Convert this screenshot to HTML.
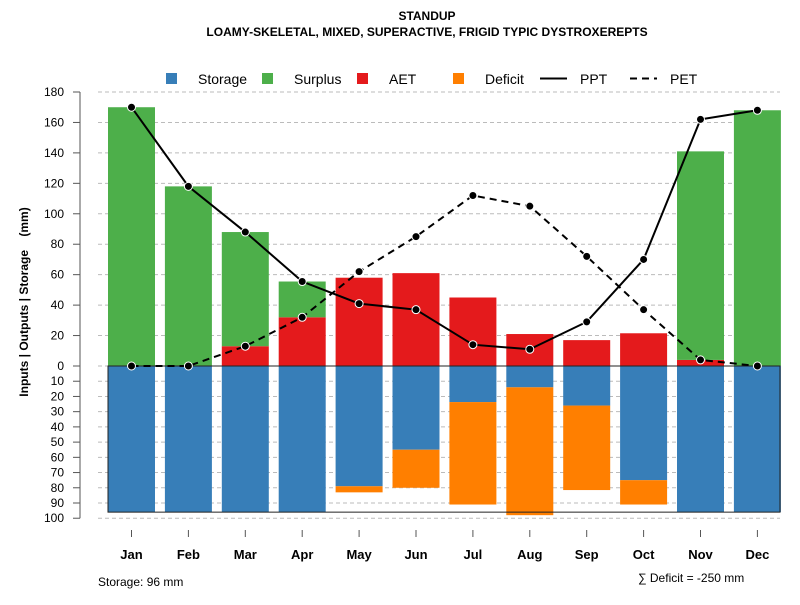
<!DOCTYPE html>
<html><head><meta charset="utf-8"><style>
body{margin:0;background:#fff}
svg{font-family:"Liberation Sans",Arial,sans-serif}
</style></head><body>
<svg id="chart" width="800" height="600" xmlns="http://www.w3.org/2000/svg">
<text x="427" y="20" text-anchor="middle" font-size="12" font-weight="bold">STANDUP</text>
<text x="427" y="36" text-anchor="middle" font-size="12" font-weight="bold">LOAMY-SKELETAL, MIXED, SUPERACTIVE, FRIGID TYPIC DYSTROXEREPTS</text>
<text transform="translate(28,302) rotate(-90)" text-anchor="middle" font-size="12" font-weight="bold" style="white-space:pre">Inputs | Outputs | Storage    (mm)</text>
<text x="98" y="586" font-size="12">Storage: 96 mm</text>
<text x="638" y="582" font-size="12">∑ Deficit = -250 mm</text>
<g id="legend"></g>
<g id="grid"></g><g id="bars"></g><g id="lines"></g><g id="axes"></g>
</svg>
<script>
const months=["Jan","Feb","Mar","Apr","May","Jun","Jul","Aug","Sep","Oct","Nov","Dec"];
const ppt=[170,118,88,55.5,41,37,14,11,29,70,162,168];
const pet=[0,0,13,32,62,85,112,105,72,37,4,0];
const aet=[0,0,13,32,58,61,45,21,17,21.5,4,0];
const surplus=[170,118,75,23.5,0,0,0,0,0,0,137,168];
const storage=[96,96,96,96,79,55,23.7,14,26,75,96,96];
const deficit=[0,0,0,0,4,25,67.3,84,55.5,16,0,0];
const upTicks=[0,20,40,60,80,100,120,140,160,180];
const downTicks=[10,20,30,40,50,60,70,80,90,100];
const storageMax=96;
const NS="http://www.w3.org/2000/svg";
const y0=366,k=274/180;
const yUp=v=>y0-v*k, yDn=v=>y0+v*k;
const xc=i=>131.5+i*56.9, bw=47;
function mk(p,t,a){const e=document.createElementNS(NS,t);for(const n in a)e.setAttribute(n,a[n]);document.getElementById(p).appendChild(e);return e;}
const C={st:"#377eb8",su:"#4daf4a",ae:"#e41a1c",de:"#ff7f00"};
upTicks.forEach(t=>{const g=mk("grid","line",{x1:98,x2:780,y1:yUp(t),y2:yUp(t),stroke:"#bbb","stroke-dasharray":"4,3"});

});
downTicks.forEach(t=>{const g=mk("grid","line",{x1:98,x2:780,y1:yDn(t),y2:yDn(t),stroke:"#bbb","stroke-dasharray":"4,3"});

});
months.forEach((m,i)=>{
 const x=xc(i)-bw/2;
 if(aet[i]>0){const r=mk("bars","rect",{x:x,width:bw,y:yUp(aet[i]),height:aet[i]*k,fill:C.ae});
 
 }
 if(surplus[i]>0){const r=mk("bars","rect",{x:x,width:bw,y:yUp(aet[i]+surplus[i]),height:surplus[i]*k,fill:C.su});
 
 }
 const s=mk("bars","rect",{x:x,width:bw,y:y0,height:storage[i]*k,fill:C.st});
 
 
 if(deficit[i]>0){const r=mk("bars","rect",{x:x,width:bw,y:yDn(storage[i]),height:deficit[i]*k,fill:C.de});
 
 }
});
const box=mk("bars","rect",{x:108,y:y0,width:672,height:storageMax*k,fill:"none",stroke:"#222","stroke-width":1});


function line(d,dash,name){
 const p=mk("lines","polyline",{points:d.map((v,i)=>xc(i)+","+yUp(v)).join(" "),fill:"none",stroke:"#000","stroke-width":2,"stroke-dasharray":dash});
 
 
 d.forEach((v,i)=>{const c=mk("lines","circle",{cx:xc(i),cy:yUp(v),r:4,fill:"#000",stroke:"#fff","stroke-width":1});
 
 });
}
line(pet,"7,5","pet");line(ppt,"none","ppt");
const ax=mk("axes","line",{x1:80,x2:80,y1:yUp(180),y2:yDn(100),stroke:"#555"});


function tick(y,l){const t=mk("axes","line",{x1:73,x2:80,y1:y,y2:y,stroke:"#555"});


const tx=mk("axes","text",{x:64,y:y+4,"text-anchor":"end","font-size":12});tx.textContent=l;

}
upTicks.forEach(t=>tick(yUp(t),t));downTicks.forEach(t=>tick(yDn(t),t));
months.forEach((m,i)=>{const t=mk("axes","line",{x1:xc(i),x2:xc(i),y1:530,y2:537,stroke:"#555"});


const tx=mk("axes","text",{x:xc(i),y:559,"text-anchor":"middle","font-size":13,"font-weight":"bold"});tx.textContent=m;

});
const leg=[["Storage",C.st,"box",166],["Surplus",C.su,"box",262],["AET",C.ae,"box",357],["Deficit",C.de,"box",453],["PPT",null,"none",540],["PET",null,"7,5",630]];
leg.forEach(l=>{
 if(l[2]=="box"){const r=mk("legend","rect",{x:l[3],y:73,width:11,height:11,fill:l[1]});
 
 }
 else{const ln=mk("legend","line",{x1:l[3],x2:l[3]+27,y1:78.5,y2:78.5,stroke:"#000","stroke-width":2,"stroke-dasharray":l[2]});
 
 }
 const tx=mk("legend","text",{x:l[3]+(l[2]=="box"?32:40),y:84,"font-size":14});tx.textContent=l[0];
 
 
});
</script>
</body></html>
